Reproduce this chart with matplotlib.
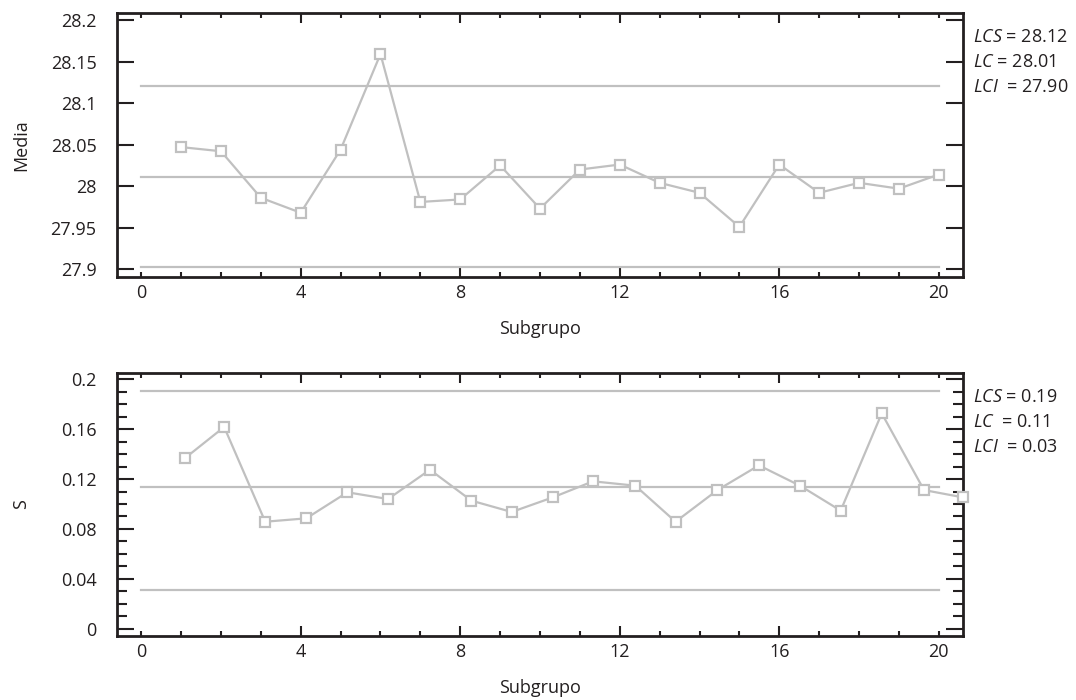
import matplotlib
matplotlib.use("Agg")
import matplotlib.pyplot as plt
from matplotlib.ticker import FixedLocator, FuncFormatter

plt.rcParams['font.family'] = ['Open Sans', 'DejaVu Sans']
plt.rcParams['mathtext.fontset'] = 'custom'
plt.rcParams['mathtext.it'] = 'Open Sans:italic'
plt.rcParams['mathtext.rm'] = 'Open Sans'

# subgroup means (x-bar chart)
subgrupo = list(range(1, 21))
media = [28.047, 28.042, 27.986, 27.968, 28.044, 28.159, 27.981, 27.984, 28.025, 27.973,
         28.020, 28.026, 28.004, 27.992, 27.951, 28.026, 27.992, 28.004, 27.997, 28.014]
media_limits = [28.120, 28.0115, 27.903]      # LCS, LC, LCI
media_text = [r'$\mathit{LCS}$ = 28.12', r'$\mathit{LC}$ = 28.01', r'$\mathit{LCI}$  = 27.90']

# subgroup standard deviations (S chart) - points sit slightly off the integer grid in the original
s_x = [1.09, 2.08, 3.11, 4.14, 5.17, 6.19, 7.24, 8.28, 9.29, 10.32,
       11.33, 12.39, 13.40, 14.45, 15.49, 16.52, 17.54, 18.57, 19.63, 20.61]
s_vals = [0.1366, 0.1618, 0.0858, 0.0885, 0.1094, 0.1040, 0.1275, 0.1027, 0.0936, 0.1053,
          0.1182, 0.1147, 0.0858, 0.1112, 0.1310, 0.1147, 0.0947, 0.1727, 0.1112, 0.1053]
s_limits = [0.1904, 0.1139, 0.0307]
s_text = [r'$\mathit{LCS}$ = 0.19', r'$\mathit{LC}$  = 0.11', r'$\mathit{LCI}$  = 0.03']

GRAY = '#c0c0c0'
FS = 13


def style_axes(ax, ylim, ymajor, yminor, fmt):
    ax.set_xlim(-0.6, 20.6)
    ax.set_ylim(*ylim)
    for sp in ax.spines.values():
        sp.set_linewidth(2)
        sp.set_color('#231f20')
    # long x ticks at 4..16, short ticks at every integer; labels for 0 and 20 come from minor ticks
    ax.xaxis.set_major_locator(FixedLocator([4, 8, 12, 16]))
    ax.xaxis.set_minor_locator(FixedLocator(list(range(0, 21))))
    ax.xaxis.set_minor_formatter(FuncFormatter(lambda v, p: f"{v:g}" if v in (0, 20) else ""))
    ax.yaxis.set_major_locator(FixedLocator(ymajor))
    ax.yaxis.set_major_formatter(FuncFormatter(fmt))
    if yminor is not None:
        ax.yaxis.set_minor_locator(FixedLocator(yminor))
    else:
        ax.yaxis.set_minor_locator(FixedLocator([]))
    ax.tick_params(which='both', direction='in', width=1.5, color='#231f20',
                   labelsize=FS, labelcolor='#231f20', top=True, right=True)
    ax.tick_params(axis='x', which='major', length=7.5, pad=5)
    ax.tick_params(axis='x', which='minor', length=3.5, pad=5)
    ax.tick_params(axis='y', which='major', length=12, pad=15)
    ax.tick_params(axis='y', which='minor', length=7)


fig = plt.figure(figsize=(10.76, 7.0), dpi=100)
ax1 = fig.add_axes([0.109, 0.6043, 0.7857, 0.3767])
ax2 = fig.add_axes([0.109, 0.0914, 0.7857, 0.3761])

# top chart
for lim in media_limits:
    ax1.plot([0, 20], [lim, lim], color=GRAY, lw=1.6, zorder=2)
ax1.plot(subgrupo, media, color=GRAY, lw=1.6, marker='s', ms=7, mfc='white',
         mec=GRAY, mew=1.6, zorder=3)
style_axes(ax1, (27.8907, 28.208), [27.9, 27.95, 28.0, 28.05, 28.1, 28.15, 28.2], None,
           lambda v, p: f"{v:.2f}".rstrip('0').rstrip('.'))
ax1.set_ylabel('Media', fontsize=FS, color='#231f20')
ax1.yaxis.set_label_coords(-0.103, 0.5)
ax1.set_xlabel('Subgrupo', fontsize=FS, color='#231f20')
ax1.xaxis.set_label_coords(0.5, -0.165)

# bottom chart
for lim in s_limits:
    ax2.plot([0, 20], [lim, lim], color=GRAY, lw=1.6, zorder=2)
ax2.plot(s_x, s_vals, color=GRAY, lw=1.6, marker='s', ms=7, mfc='white',
         mec=GRAY, mew=1.6, zorder=3, clip_on=False)
style_axes(ax2, (-0.0059, 0.2053), [0, 0.04, 0.08, 0.12, 0.16, 0.2],
           [i / 100 for i in range(0, 21)],
           lambda v, p: f"{v:.2f}".rstrip('0').rstrip('.') if v != 0 else "0")
ax2.set_ylabel('S', fontsize=FS, color='#231f20')
ax2.yaxis.set_label_coords(-0.103, 0.5)
ax2.set_xlabel('Subgrupo', fontsize=FS, color='#231f20')
ax2.xaxis.set_label_coords(0.5, -0.165)

# control limit annotations
for i, t in enumerate(media_text):
    fig.text(0.904, 1 - (37 + 25 * i) / 700, t, fontsize=FS, va='center', ha='left',
             color='#231f20')
for i, t in enumerate(s_text):
    fig.text(0.904, 1 - (397 + 25 * i) / 700, t, fontsize=FS, va='center', ha='left',
             color='#231f20')

fig.savefig('out.png', dpi=100)
